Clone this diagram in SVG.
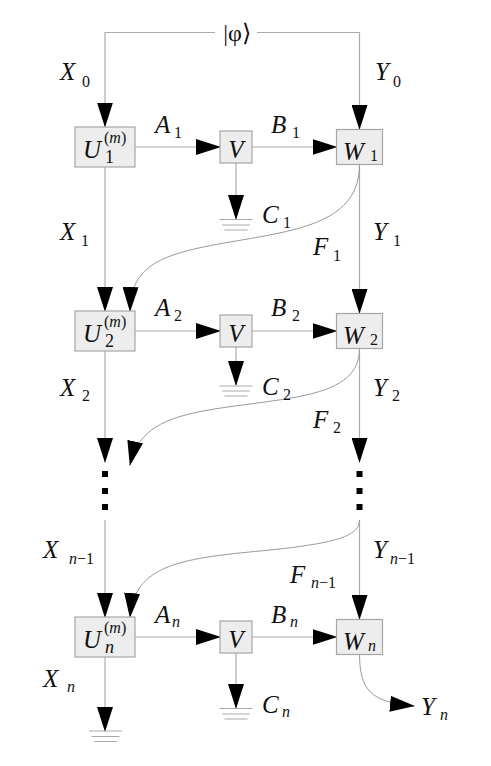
<svg xmlns="http://www.w3.org/2000/svg" width="491" height="766" viewBox="0 0 491 766">
<defs>
<marker id="ah" markerUnits="userSpaceOnUse" markerWidth="25" markerHeight="16" refX="24" refY="8" orient="auto" viewBox="0 0 25 16">
<path d="M0,0 L25,8 L0,16 Z" fill="#000"/>
</marker>
<style>
.ln{fill:none;stroke:#ababab;stroke-width:1.2}
.cv{fill:none;stroke:#999;stroke-width:1}
.ar{marker-end:url(#ah)}
.bx{fill:#ededed;stroke:#a6a6a6;stroke-width:1.2}
.gd{stroke:#ababab;stroke-width:1.2}
.dot{fill:#000}
.t{fill:#111}
.m{font-size:25px;font-style:italic}
.s{font-size:16px}
.si{font-size:16px;font-style:italic}
.su{font-size:18px}
</style>
</defs>
<rect width="491" height="766" fill="#fff"/>
<g id="connectors">
<path class="ln ar" d="M215,32.5 H105 V126.5"/>
<path class="ln ar" d="M257,32.5 H359.5 V129"/>
<path class="ln ar" d="M135,147 H220"/>
<path class="ln ar" d="M252,147 H336.5"/>
<path class="ln ar" d="M236,163 V219"/>
<path class="ln ar" d="M105,167 V311"/>
<path class="ln ar" d="M359.5,164.5 V313"/>
<path class="cv ar" d="M359.5,164.5 C359.5,222 300,230 230,242 C160,254 131,265 130,311"/>
<path class="ln ar" d="M135,331 H220"/>
<path class="ln ar" d="M252,331 H336.5"/>
<path class="ln ar" d="M236,347 V385"/>
<path class="ln ar" d="M105,351 V462"/>
<path class="ln ar" d="M359.5,348.5 V462"/>
<path class="cv ar" d="M359.5,348.5 C359.5,390 310,396 250,404 C180,413 140,420 130,465"/>
<path class="ln ar" d="M105,520 V617"/>
<path class="ln ar" d="M359.5,520 V619"/>
<path class="cv ar" d="M359.5,520 C359.5,535 340,542 280,549 C190,558 135,560 130,617"/>
<path class="ln ar" d="M135,637 H220"/>
<path class="ln ar" d="M252,637 H336.5"/>
<path class="ln ar" d="M236,653 V708"/>
<path class="ln ar" d="M105,657 V731"/>
<path class="cv ar" d="M359.5,654.5 C360,690 370,702 414,706"/>
<g id="grounds">
<path class="gd" d="M219.5,219.5 H252.5 M222,225 H250 M224.5,230 H247.5"/>
<path class="gd" d="M219.5,386 H252.5 M222,391 H250 M224.5,396 H247.5"/>
<path class="gd" d="M219.5,708.5 H252.5 M222,714 H250 M224.5,719 H247.5"/>
<path class="gd" d="M89,731 H122 M91.5,736.5 H119.5 M94,741.5 H117"/>
</g>
<g id="dots">
<rect class="dot" x="102" y="471" width="6" height="6"/>
<rect class="dot" x="102" y="488" width="6" height="6"/>
<rect class="dot" x="102" y="504" width="6" height="6"/>
<rect class="dot" x="356.5" y="471" width="6" height="6"/>
<rect class="dot" x="356.5" y="488" width="6" height="6"/>
<rect class="dot" x="356.5" y="504" width="6" height="6"/>
</g>
</g>
<g font-family="Liberation Serif, serif" fill="#111">
<g id="phi">
<text x="237" y="41" font-size="24" text-anchor="middle">|φ⟩</text>
</g>
<g id="U1"><rect class="bx" x="75" y="127" width="60" height="40"/><text class="m" x="83" y="158">U</text><text x="104" y="143" class="s">(<tspan font-style="italic">m</tspan>)</text><text class="su" x="105" y="163">1</text></g>
<g id="V1"><rect class="bx" x="220" y="131" width="32" height="32"/><text class="m" x="236" y="158" text-anchor="middle">V</text></g>
<g id="W1"><rect class="bx" x="336.5" y="129.5" width="46" height="35"/><text class="m" x="343" y="160">W</text><text class="s" x="370" y="161">1</text></g>
<g id="U2"><rect class="bx" x="75" y="311" width="60" height="40"/><text class="m" x="83" y="342">U</text><text x="104" y="327" class="s">(<tspan font-style="italic">m</tspan>)</text><text class="su" x="105" y="347">2</text></g>
<g id="V2"><rect class="bx" x="220" y="315" width="32" height="32"/><text class="m" x="236" y="342" text-anchor="middle">V</text></g>
<g id="W2"><rect class="bx" x="336.5" y="313.5" width="46" height="35"/><text class="m" x="343" y="344">W</text><text class="s" x="370" y="345">2</text></g>
<g id="Un"><rect class="bx" x="75" y="617" width="60" height="40"/><text class="m" x="83" y="648">U</text><text x="104" y="633" class="s">(<tspan font-style="italic">m</tspan>)</text><text class="su si" x="105" y="653">n</text></g>
<g id="Vn"><rect class="bx" x="220" y="621" width="32" height="32"/><text class="m" x="236" y="648" text-anchor="middle">V</text></g>
<g id="Wn"><rect class="bx" x="336.5" y="619.5" width="46" height="35"/><text class="m" x="343" y="650">W</text><text class="si" x="368" y="651">n</text></g>
<g id="labels">
<text class="m" x="60" y="80">X</text><text class="s" x="82" y="87">0</text>
<text class="m" x="375" y="80">Y</text><text class="s" x="393" y="87">0</text>
<text class="m" x="155" y="133">A</text><text class="s" x="174" y="138">1</text>
<text class="m" x="271" y="133">B</text><text class="s" x="292" y="138">1</text>
<text class="m" x="262" y="223">C</text><text class="s" x="283" y="228">1</text>
<text class="m" x="60" y="240">X</text><text class="s" x="81" y="246">1</text>
<text class="m" x="373" y="240">Y</text><text class="s" x="393" y="246">1</text>
<text class="m" x="313" y="255">F</text><text class="s" x="333" y="261">1</text>
<text class="m" x="155" y="316">A</text><text class="s" x="174" y="321">2</text>
<text class="m" x="271" y="316">B</text><text class="s" x="292" y="321">2</text>
<text class="m" x="262" y="395">C</text><text class="s" x="283" y="400">2</text>
<text class="m" x="60" y="396">X</text><text class="s" x="82" y="401">2</text>
<text class="m" x="373" y="396">Y</text><text class="s" x="392" y="401">2</text>
<text class="m" x="313" y="428">F</text><text class="s" x="333" y="433">2</text>
<text class="m" x="43" y="558">X</text><text class="s" x="69" y="564"><tspan font-style="italic">n</tspan>−1</text>
<text class="m" x="373" y="558">Y</text><text class="s" x="390" y="564"><tspan font-style="italic">n</tspan>−1</text>
<text class="m" x="290" y="583">F</text><text class="s" x="311" y="588"><tspan font-style="italic">n</tspan>−1</text>
<text class="m" x="155" y="623">A</text><text class="si" x="172" y="627">n</text>
<text class="m" x="271" y="623">B</text><text class="si" x="290" y="627">n</text>
<text class="m" x="43" y="687">X</text><text class="si" x="67" y="692">n</text>
<text class="m" x="262" y="713">C</text><text class="si" x="282" y="717">n</text>
<text class="m" x="421" y="715">Y</text><text class="si" x="440" y="720">n</text>
</g>
</g>
</svg>
